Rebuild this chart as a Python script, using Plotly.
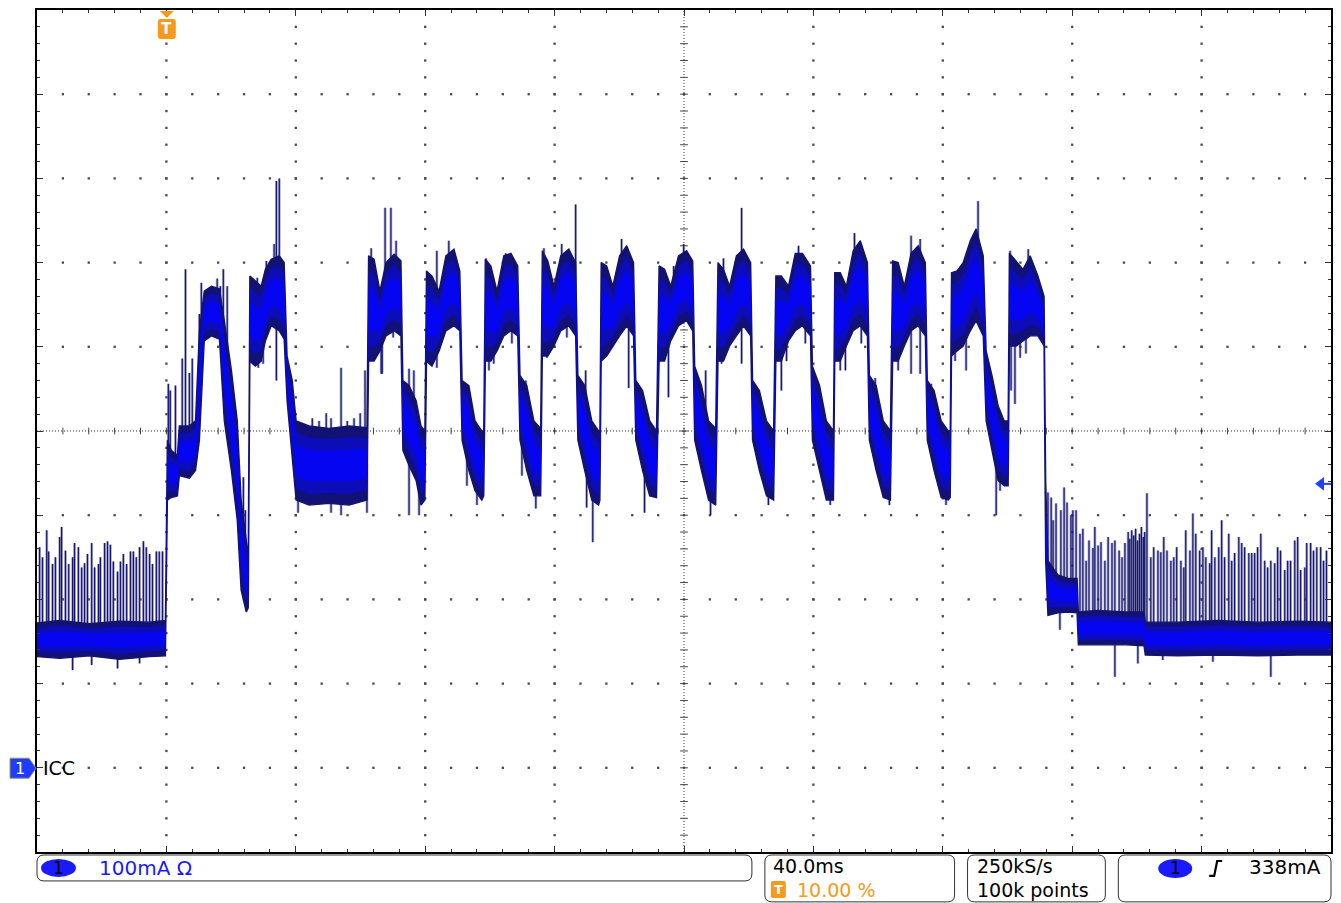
import numpy as np
import plotly.graph_objects as go

# ---------------- data (time in ms, current in mA) ----------------
env_t = [-40.0, -33.0, -23.8, -14.5, -5.2, -0.3,
         0.3, 1.5, 3.4, 4.0, 7.1, 9.0, 10.2, 11.7, 13.9, 16.4, 17.9, 20.1, 21.9, 23.1, 24.7, 25.3,
         25.8, 27.5, 29.3, 30.6, 32.4, 34.9, 36.4, 37.3, 38.9, 40.1, 44.1, 50.3, 56.5, 62.0,
         62.5, 64.2, 66.0, 67.9, 70.4, 72.5, 73.1, 75.0, 77.2, 78.7, 79.9,
         80.4, 82.1, 84.3, 86.4, 88.9, 90.7, 91.4, 93.5, 95.4, 97.5, 98.1,
         98.6, 100.3, 102.2, 104.3, 106.5, 108.6, 109.3, 111.4, 113.6, 115.7,
         116.2, 117.9, 119.8, 121.9, 124.4, 126.5, 127.2, 129.3, 131.5, 133.6, 134.0,
         134.4, 136.1, 138.0, 140.1, 142.3, 144.4, 145.1, 147.2, 149.4, 151.5,
         152.3, 154.0, 155.9, 158.3, 160.8, 162.7, 163.3, 165.4, 167.6, 169.8,
         170.5, 172.2, 174.1, 176.2, 178.4, 180.6, 181.2, 183.3, 185.5, 187.7,
         188.4, 190.1, 192.3, 194.4, 196.6, 199.1, 199.7, 201.9, 204.0, 206.2,
         206.6, 208.3, 210.2, 212.3, 214.5, 216.7, 217.3, 219.4, 221.6, 223.8,
         224.5, 226.2, 228.1, 230.2, 232.4, 234.6, 235.2, 237.3, 239.5, 241.7, 242.3,
         242.7, 244.4, 246.3, 248.5, 250.3, 252.5, 253.4, 255.2, 257.1, 259.0, 260.2,
         260.6, 262.7, 264.8, 267.0, 269.4, 271.3,
         271.8, 272.5, 275.6, 278.7, 281.5, 281.9, 288.0, 296.6, 302.2, 302.6, 312.7, 325.0, 337.3, 349.7, 360.0]

env_hi = [172, 175, 171, 174, 173, 175,
          389, 377, 371, 406, 406, 412, 519, 566, 572, 569, 531, 472, 412, 318, 270, 246,
          584, 578, 572, 592, 604, 608, 600, 489, 460, 412, 406, 403, 406, 404,
          608, 604, 566, 600, 610, 602, 460, 454, 436, 406, 400,
          590, 584, 566, 608, 616, 590, 460, 454, 412, 400, 400,
          604, 596, 566, 608, 611, 596, 466, 454, 412, 403,
          614, 602, 572, 608, 616, 600, 466, 454, 412, 400, 400,
          600, 596, 572, 608, 620, 600, 460, 448, 412, 400,
          596, 592, 572, 608, 614, 602, 477, 454, 412, 403,
          600, 592, 572, 608, 616, 600, 460, 448, 412, 400,
          584, 584, 572, 611, 611, 596, 477, 454, 412, 400,
          588, 588, 572, 614, 626, 600, 466, 454, 412, 400,
          602, 600, 572, 611, 620, 600, 460, 448, 412, 400, 400,
          588, 590, 600, 626, 640, 608, 495, 466, 430, 412, 412,
          611, 602, 592, 608, 584, 560,
          341, 246, 229, 225, 225, 185, 187, 185, 185, 173, 173, 175, 173, 174, 173]

env_lo = [132, 130, 133, 129, 132, 133,
          318, 321, 323, 347, 344, 353, 389, 507, 513, 509, 412, 353, 294, 211, 185, 190,
          483, 477, 483, 507, 525, 519, 509, 436, 371, 318, 312, 314, 312, 318,
          483, 483, 495, 513, 519, 513, 377, 359, 341, 312, 318,
          483, 477, 495, 519, 525, 519, 389, 353, 329, 318, 323,
          483, 483, 495, 513, 519, 513, 389, 353, 323, 323,
          489, 489, 501, 519, 525, 513, 389, 353, 318, 312, 318,
          483, 489, 501, 513, 525, 513, 389, 353, 323, 321,
          483, 483, 507, 525, 531, 519, 389, 353, 318, 312,
          483, 483, 501, 513, 525, 513, 389, 353, 323, 318,
          483, 483, 507, 519, 525, 513, 389, 353, 318, 318,
          483, 483, 501, 519, 525, 513, 389, 353, 321, 318,
          483, 483, 501, 519, 525, 513, 389, 353, 321, 318, 321,
          489, 495, 501, 519, 531, 513, 412, 377, 341, 335, 335,
          501, 501, 507, 513, 513, 501,
          246, 181, 184, 185, 184, 146, 146, 146, 145, 134, 133, 134, 133, 134, 134]

spike_t = [-39.2, -38.3, -37.0, -36.4, -35.2, -34.3, -33.0, -32.4, -31.2, -30.2, -29.0, -28.4, -27.2,
           -26.2, -25.3, -24.4, -23.1, -22.2, -21.0, -20.4, -19.1, -18.2, -17.3, -16.4, -15.1, -14.2,
           -13.3, -12.3, -11.1, -10.2, -9.3, -8.3, -7.1, -6.2, -5.2, -4.3, -3.1, -2.2, -1.2,
           0.6, 1.2, 2.8, 4.9, 5.9, 7.1, 8.0, 10.2, 10.8, 15.7, 16.7, 17.6, 18.8, 23.8, 24.4,
           28.1, 30.9, 33.3, 34.0, 34.9, 38.0, 42.0, 45.1, 47.2, 49.4, 50.9, 54.0, 55.9, 58.0,
           59.9, 61.4, 63.3, 67.6, 69.4, 71.0, 75.0, 76.5, 83.6, 87.3, 92.6, 98.8, 104.9, 111.1,
           116.7, 122.2, 126.5, 129.6, 140.7, 146.6, 156.8, 159.9, 166.7, 172.2, 177.8, 182.4,
           195.4, 200.6, 212.7, 219.1, 230.2, 233.0, 236.4, 250.9, 254.9, 260.8, 266.4,
           272.5, 273.5, 274.1, 275.0, 276.5, 277.5, 278.4, 279.6, 280.2, 281.2, 282.4, 283.3,
           284.3, 285.2, 286.4, 287.0, 288.0, 288.9, 290.1, 291.1, 292.3, 293.2, 294.5, 295.4,
           296.3, 297.3, 297.8, 298.4, 299.0, 299.6, 300.2, 300.8, 301.4, 302.0, 302.4, 303.1,
           304.3, 305.2, 306.5, 307.4, 308.3, 309.3, 310.5, 311.4, 312.3, 313.6, 314.5, 315.1,
           316.4, 317.3, 318.2, 319.4, 320.4, 321.3, 322.5, 323.1, 324.1, 325.3, 326.2, 327.1,
           328.4, 329.3, 330.2, 331.5, 332.4, 333.3, 334.6, 335.5, 336.4, 337.3, 338.3, 339.5,
           340.4, 341.4, 342.6, 343.5, 344.4, 345.7, 346.6, 347.5, 348.8, 349.7, 350.6, 351.9,
           352.5, 353.7, 354.6, 355.6, 356.8, 357.7, 358.6]

spike_top = [262, 250, 282, 257, 242, 250, 274, 286, 258, 242, 250, 267, 262,
             238, 243, 254, 267, 238, 242, 250, 267, 269, 265, 245, 233, 245,
             254, 242, 257, 257, 250, 262, 269, 262, 254, 242, 257, 257, 257,
             456, 448, 454, 486, 592, 469, 486, 539, 576, 581, 572, 592, 572, 345, 306,
             582, 602, 622, 697, 700, 472, 409, 415, 412, 421, 415, 475, 412, 415,
             421, 472, 617, 665, 665, 626, 474, 472, 614, 626, 456, 605, 611, 460,
             617, 622, 669, 472, 628, 451, 596, 622, 472, 605, 665, 448,
             620, 456, 635, 463, 632, 628, 456, 673, 463, 614, 616,
             327, 321, 294, 314, 306, 333, 315, 300, 306, 306, 278, 284,
             246, 270, 261, 286, 264, 268, 246, 274, 267, 270, 258, 250,
             267, 280, 272, 282, 276, 284, 270, 278, 286, 274, 280, 326,
             250, 262, 258, 256, 274, 258, 246, 250, 262, 246, 238, 282,
             258, 302, 278, 258, 262, 250, 243, 282, 250, 262, 294, 250,
             278, 246, 255, 274, 267, 262, 255, 255, 255, 262, 278, 246,
             238, 246, 243, 262, 258, 235, 246, 246, 270, 274, 235, 238,
             267, 267, 258, 262, 262, 246, 258]

dip_t = [-29.0, -23.1, -15.1, -8.3,
         28.4, 29.9, 34.0, 40.7, 50.9, 54.0, 62.0, 63.0, 64.2, 66.4, 66.7, 70.1, 75.0, 78.1,
         81.2, 83.6, 85.2, 92.9, 96.0, 99.7, 101.2, 106.8, 109.9, 114.2, 117.6, 123.8,
         129.9, 131.8, 135.8, 137.7, 142.9, 147.8, 153.7, 155.2, 168.2, 171.6, 177.8,
         186.1, 190.1, 191.7, 197.5, 205.2, 208.3, 209.9, 214.8, 223.5, 226.2, 230.2,
         233.0, 241.0, 243.8, 247.2, 256.5, 257.7, 261.1, 262.3, 263.9, 265.7,
         276.2, 293.2, 300.3, 308.0, 323.5, 341.4]
dip_bot = [116, 122, 118, 124,
           475, 480, 460, 303, 303, 300, 303, 487, 492, 468, 468, 511, 300, 300,
           483, 475, 515, 335, 312, 472, 480, 504, 347, 308, 487, 511,
           309, 268, 489, 499, 451, 303, 492, 440, 300, 480, 480,
           312, 448, 483, 504, 312, 472, 472, 504, 312, 472, 468,
           468, 312, 483, 472, 300, 329, 448, 432, 487, 492,
           164, 108, 124, 128, 126, 108]

# screen settings
t_range = [-40, 360]      # 40 ms/div, trigger at 10 %
i_range = [-100, 900]     # 100 mA/div

# ---------------- figure ----------------
W, H = 1341, 903
PL, PR, PT, PB = 37, 1333, 8, 852


def fx(x):
    return (x - PL) / (PR - PL)


def fy(y):
    return (PB - y) / (PB - PT)


t_arr = np.array(env_t)
hi_arr = np.array(env_hi, dtype=float)
lo_arr = np.array(env_lo, dtype=float)
mid_arr = (hi_arr + lo_arr) / 2

fig = go.Figure()

# grid dots
gx, gy = [], []
for row in range(0, 801, 100):
    if row == 400:
        continue
    for tt in np.arange(-32, 360, 8):
        gx.append(tt)
        gy.append(row)
for col in range(0, 321, 40):
    if col == 160:
        continue
    for ii in np.arange(-80, 900, 20):
        gx.append(col)
        gy.append(ii)
fig.add_trace(go.Scatter(x=gx, y=gy, mode='markers',
                         marker=dict(size=2.3, color='#4a4a4a', symbol='square', line=dict(width=0)),
                         hoverinfo='skip', showlegend=False))

# centre crosshair ticks
cx, cy = [], []
for tt in np.arange(-32, 360, 8):
    cx += [tt, tt, None]
    cy += [396, 404, None]
for ii in np.arange(-80, 900, 20):
    cx += [158.8, 161.2, None]
    cy += [ii, ii, None]
fig.add_trace(go.Scatter(x=cx, y=cy, mode='lines', line=dict(color='#444', width=1),
                         hoverinfo='skip', showlegend=False))
fig.add_trace(go.Scatter(x=t_range, y=[400, 400], mode='lines',
                         line=dict(color='#333', width=1, dash='1px,2px'),
                         hoverinfo='skip', showlegend=False))
fig.add_trace(go.Scatter(x=[160, 160], y=i_range, mode='lines',
                         line=dict(color='#333', width=1, dash='1px,2px'),
                         hoverinfo='skip', showlegend=False))

# spikes (up) and dips (down)
sx, sy = [], []
for ts, top in zip(spike_t, spike_top):
    k = int(np.abs(t_arr - ts).argmin())
    sx += [ts, ts, None]
    sy += [mid_arr[k], top, None]
for ts, bot in zip(dip_t, dip_bot):
    k = int(np.abs(t_arr - ts).argmin())
    sx += [ts, ts, None]
    sy += [mid_arr[k], bot, None]
fig.add_trace(go.Scatter(x=sx, y=sy, mode='lines', line=dict(color='rgba(70,70,150,0.45)', width=2.8),
                         hoverinfo='skip', showlegend=False))
fig.add_trace(go.Scatter(x=sx, y=sy, mode='lines', line=dict(color='#16166e', width=1.2),
                         hoverinfo='skip', showlegend=False))

# envelope band layers (outer dark, inner bright)
for frac, col, lw, lcol in [(0.0, '#111176', 1.4, '#14146a'),
                            (0.14, '#0c0cb8', 0, None),
                            (0.30, '#0505f2', 0, None)]:
    h = hi_arr - frac * (hi_arr - lo_arr)
    l = lo_arr + frac * (hi_arr - lo_arr)
    px_ = list(t_arr) + list(t_arr[::-1])
    py_ = list(h) + list(l[::-1])
    fig.add_trace(go.Scatter(x=px_, y=py_, mode='lines', fill='toself', fillcolor=col,
                             line=dict(color=lcol if lcol else col, width=lw),
                             hoverinfo='skip', showlegend=False))


def rrect(x0, y0, x1, y1, r):
    return (f"M{fx(x0 + r)},{fy(y0)} L{fx(x1 - r)},{fy(y0)} Q{fx(x1)},{fy(y0)} {fx(x1)},{fy(y0 + r)} "
            f"L{fx(x1)},{fy(y1 - r)} Q{fx(x1)},{fy(y1)} {fx(x1 - r)},{fy(y1)} "
            f"L{fx(x0 + r)},{fy(y1)} Q{fx(x0)},{fy(y1)} {fx(x0)},{fy(y1 - r)} "
            f"L{fx(x0)},{fy(y0 + r)} Q{fx(x0)},{fy(y0)} {fx(x0 + r)},{fy(y0)} Z")


ORANGE = '#f59a1b'
BLUE = '#1a1aff'
shapes = []
ann = []
FONT = 'DejaVu Sans'
FS = 19

# trigger position marker
shapes.append(dict(type='path', xref='paper', yref='paper',
                   path=f"M{fx(160)},{fy(9)} L{fx(174)},{fy(9)} L{fx(167)},{fy(16)} Z",
                   fillcolor=ORANGE, line=dict(width=0)))
shapes.append(dict(type='path', xref='paper', yref='paper', path=rrect(158, 17, 176, 37, 3),
                   fillcolor=ORANGE, line=dict(width=0)))
ann.append(dict(x=fx(167), y=fy(27.5), xref='paper', yref='paper', text='<b>T</b>', showarrow=False,
                font=dict(family=FONT, size=15, color='white'), xanchor='center', yanchor='middle'))

# channel ground marker
shapes.append(dict(type='path', xref='paper', yref='paper',
                   path=f"M{fx(10)},{fy(758)} L{fx(29)},{fy(758)} L{fx(36)},{fy(768)} L{fx(29)},{fy(778)} L{fx(10)},{fy(778)} Z",
                   fillcolor='#1e3cff', line=dict(color='#8f8f60', width=1)))
ann.append(dict(x=fx(19.5), y=fy(768), xref='paper', yref='paper', text='1', showarrow=False,
                font=dict(family=FONT, size=16, color='white'), xanchor='center', yanchor='middle'))
ann.append(dict(x=fx(41), y=fy(768), xref='paper', yref='paper', text='ICC', showarrow=False,
                font=dict(family=FONT, size=19, color='black'), xanchor='left', yanchor='middle'))

# trigger level arrow
shapes.append(dict(type='path', xref='paper', yref='paper',
                   path=f"M{fx(1317)},{fy(483)} L{fx(1326)},{fy(476)} L{fx(1326)},{fy(490)} Z",
                   fillcolor='#2040ff', line=dict(width=0)))
shapes.append(dict(type='line', xref='paper', yref='paper', x0=fx(1324), x1=fx(1333), y0=fy(483), y1=fy(483),
                   line=dict(color='#2040ff', width=2)))

# status boxes
for (x0, y0, x1, y1) in [(37, 855, 753, 881), (766, 855, 956, 902), (969, 855, 1107, 902), (1120, 855, 1333, 902)]:
    shapes.append(dict(type='path', xref='paper', yref='paper', path=rrect(x0, y0, x1, y1, 7),
                       fillcolor='white', line=dict(color='#333', width=1)))

# channel badge box A
shapes.append(dict(type='circle', xref='paper', yref='paper', x0=fx(41), x1=fx(76), y0=fy(877), y1=fy(859),
                   fillcolor=BLUE, line=dict(width=0)))
ann.append(dict(x=fx(58.5), y=fy(868), xref='paper', yref='paper', text='1', showarrow=False,
                font=dict(family=FONT, size=17, color='black'), xanchor='center', yanchor='middle'))
ann.append(dict(x=fx(97), y=fy(868), xref='paper', yref='paper', text='100mA Ω', showarrow=False,
                font=dict(family=FONT, size=FS + 1, color=BLUE), xanchor='left', yanchor='middle'))

# timebase box
ann.append(dict(x=fx(772), y=fy(866.5), xref='paper', yref='paper', text='40.0ms', showarrow=False,
                font=dict(family=FONT, size=FS, color='black'), xanchor='left', yanchor='middle'))
shapes.append(dict(type='path', xref='paper', yref='paper', path=rrect(772, 881, 787, 898, 2),
                   fillcolor=ORANGE, line=dict(width=0)))
ann.append(dict(x=fx(779.5), y=fy(889.5), xref='paper', yref='paper', text='<b>T</b>', showarrow=False,
                font=dict(family=FONT, size=13, color='white'), xanchor='center', yanchor='middle'))
ann.append(dict(x=fx(796), y=fy(890.5), xref='paper', yref='paper', text='10.00 %', showarrow=False,
                font=dict(family=FONT, size=FS, color=ORANGE), xanchor='left', yanchor='middle'))

# acquisition box
ann.append(dict(x=fx(976), y=fy(866.5), xref='paper', yref='paper', text='250kS/s', showarrow=False,
                font=dict(family=FONT, size=FS, color='black'), xanchor='left', yanchor='middle'))
ann.append(dict(x=fx(976), y=fy(890.5), xref='paper', yref='paper', text='100k points', showarrow=False,
                font=dict(family=FONT, size=FS, color='black'), xanchor='left', yanchor='middle'))

# trigger box
shapes.append(dict(type='circle', xref='paper', yref='paper', x0=fx(1160), x1=fx(1194), y0=fy(878), y1=fy(859),
                   fillcolor=BLUE, line=dict(width=0)))
ann.append(dict(x=fx(1177), y=fy(868), xref='paper', yref='paper', text='1', showarrow=False,
                font=dict(family=FONT, size=17, color='black'), xanchor='center', yanchor='middle'))
shapes.append(dict(type='path', xref='paper', yref='paper',
                   path=f"M{fx(1211)},{fy(876)} L{fx(1216)},{fy(876)} L{fx(1219)},{fy(861)} L{fx(1224)},{fy(861)}",
                   line=dict(color='black', width=2.2)))
ann.append(dict(x=fx(1249), y=fy(867), xref='paper', yref='paper', text='338mA', showarrow=False,
                font=dict(family=FONT, size=FS + 1, color='black'), xanchor='left', yanchor='middle'))

axis_common = dict(showgrid=False, zeroline=False, showticklabels=False, showline=True,
                   linecolor='black', linewidth=1.5, mirror='allticks', ticks='inside',
                   tickcolor='#333', tickwidth=1, fixedrange=True)

fig.update_layout(
    width=W, height=H, autosize=False,
    margin=dict(l=PL, r=W - PR, t=PT, b=H - PB, pad=0),
    paper_bgcolor='white', plot_bgcolor='white',
    xaxis=dict(range=t_range, dtick=40, tick0=-40, ticklen=6,
               minor=dict(ticks='inside', dtick=8, tick0=-40, ticklen=3, tickcolor='#333'),
               **axis_common),
    yaxis=dict(range=i_range, dtick=100, tick0=-100, ticklen=6,
               minor=dict(ticks='inside', dtick=20, tick0=-100, ticklen=3, tickcolor='#333'),
               **axis_common),
    shapes=shapes, annotations=ann, showlegend=False,
)

fig.write_html("out.html", config={'displayModeBar': False},
               post_script="document.body.style.margin='0px';document.body.style.padding='0px';"
                           "document.body.style.overflow='hidden';")
